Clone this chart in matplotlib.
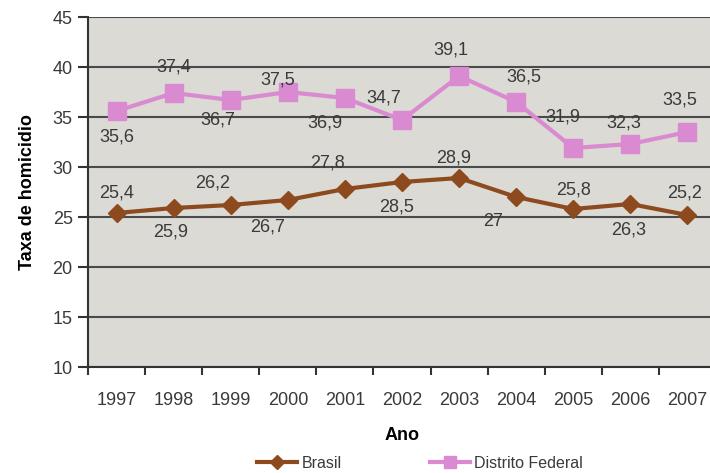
import matplotlib.pyplot as plt
from matplotlib.lines import Line2D

anos = ['1997', '1998', '1999', '2000', '2001', '2002', '2003', '2004', '2005', '2006', '2007']
brasil = [25.4, 25.9, 26.2, 26.7, 27.8, 28.5, 28.9, 27.0, 25.8, 26.3, 25.2]
df = [35.6, 37.4, 36.7, 37.5, 36.9, 34.7, 39.1, 36.5, 31.9, 32.3, 33.5]

# label offsets (pixels) for each point
brasil_off = [(0, 20), (-3, -24), (-18, 22), (-20, -27), (-17, 26), (-5, -25), (-5, 20),
              (-23, -25), (0, 19), (-2, -26), (-3, 22)]
df_off = [(0, -26), (0, 26), (-13, -20), (-10, 12), (-20, -25), (-18, 22), (-8, 26),
          (8, 25), (-10, 31), (-7, 21), (-8, 32)]

plt.rcParams['font.family'] = ['Liberation Sans Narrow', 'Liberation Sans', 'DejaVu Sans']

c_br = '#8e4a1f'
c_df = '#d98ad0'
txt = '#3a3a3a'

fig = plt.figure(figsize=(7.1, 4.73), dpi=100)
ax = fig.add_axes([88 / 710, 106 / 473, 628 / 710, 350 / 473])
ax.set_facecolor('#dcdad5')

x = list(range(len(anos)))
ax.plot(x, brasil, color=c_br, lw=3, marker='D', ms=9, label='Brasil', zorder=3)
ax.plot(x, df, color=c_df, lw=3, marker='s', ms=13, label='Distrito Federal', zorder=3)

for xi, v, off in zip(x, brasil, brasil_off):
    s = f'{v:g}'.replace('.', ',')
    ax.annotate(s, (xi, v), xytext=off, textcoords='offset pixels',
                ha='center', va='center', fontsize=13, color=txt, zorder=4)
for xi, v, off in zip(x, df, df_off):
    s = f'{v:g}'.replace('.', ',')
    ax.annotate(s, (xi, v), xytext=off, textcoords='offset pixels',
                ha='center', va='center', fontsize=13, color=txt, zorder=4)

ax.set_xlim(-0.5, len(anos) - 0.5)
ax.set_ylim(10, 45)
ax.set_yticks(range(10, 46, 5))
ax.yaxis.grid(True, color='#4a4a4a', lw=1.5)
ax.set_axisbelow(True)

ax.set_xticks(x)
ax.set_xticklabels(anos)
ax.set_xticks([i - 0.5 for i in range(len(anos) + 1)], minor=True)
ax.tick_params(axis='x', which='major', length=0, pad=18, labelsize=13, labelcolor=txt)
ax.tick_params(axis='x', which='minor', length=6, width=1.5, color='#333333', direction='out')
ax.tick_params(axis='y', length=7, width=1.5, color='#333333', labelsize=13, labelcolor=txt, pad=4)

for side in ['top', 'right']:
    ax.spines[side].set_visible(False)
for side in ['left', 'bottom']:
    ax.spines[side].set_color('#333333')
    ax.spines[side].set_linewidth(1.5)

ax.set_xlabel('Ano', fontsize=13, fontweight='bold', family='Liberation Sans', labelpad=13)
ax.set_ylabel('Taxa de homicidio', fontsize=13, fontweight='bold', family='Liberation Sans', labelpad=12)

handles = [Line2D([], [], color=c_br, lw=3, marker='D', ms=7),
           Line2D([], [], color=c_df, lw=3, marker='s', ms=8)]
fig.legend(handles, ['Brasil', 'Distrito Federal'], loc='center', bbox_to_anchor=(420 / 710, 10 / 473),
           ncol=2, frameon=False, fontsize=11.5, handlelength=2.5, columnspacing=5.5, handletextpad=0.3,
           labelcolor=txt)

fig.savefig('out.png', dpi=100, facecolor='white')
